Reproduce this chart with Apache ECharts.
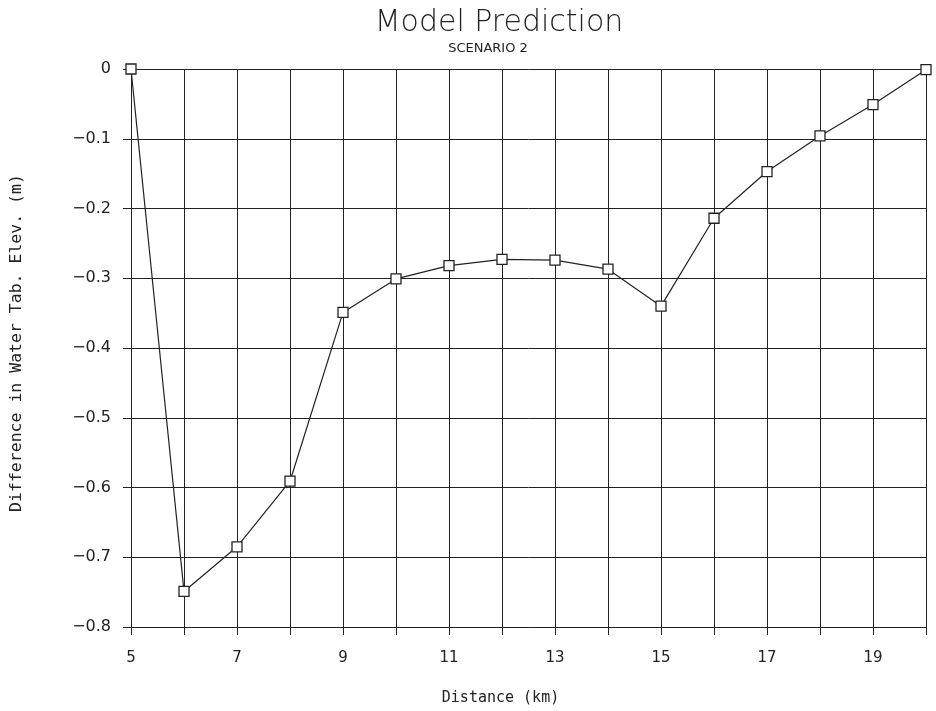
<!DOCTYPE html>
<html>
<head>
<meta charset="utf-8">
<script src="https://cdn.jsdelivr.net/npm/echarts@6/dist/echarts.min.js"></script>
<style>html,body{margin:0;padding:0;background:#fff}#c{width:936px;height:711px}</style>
</head>
<body>
<div id="c"></div>
<script>
const distance = [5, 6, 7, 8, 9, 10, 11, 12, 13, 14, 15, 16, 17, 18, 19, 20];
const difference = [0, -0.749, -0.685, -0.591, -0.349, -0.301, -0.282, -0.273, -0.274, -0.287, -0.340, -0.214, -0.147, -0.096, -0.051, -0.001];
const xLabelValues = [5, 7, 9, 11, 13, 15, 17, 19];
const yTicks = [0, -0.1, -0.2, -0.3, -0.4, -0.5, -0.6, -0.7, -0.8];

const chart = echarts.init(document.getElementById('c'), null, {renderer: 'canvas'});
const font = 'DejaVu Sans';
const mono = 'DejaVu Sans Mono';
const ink = '#222';
chart.setOption({
  backgroundColor: '#fff',
  animation: false,
  title: [{
    text: 'Model Prediction',
    left: 494, textAlign: 'center',
    top: 3,
    textStyle: {fontFamily: font, fontWeight: 200, fontSize: 30, color: ink}
  }, {
    text: 'SCENARIO 2',
    left: 483, textAlign: 'center',
    top: 37,
    textStyle: {fontFamily: font, fontWeight: 'normal', fontSize: 13, color: ink}
  }],
  grid: {left: 130, right: 10, top: 69, bottom: 84, containLabel: false},
  xAxis: {
    type: 'value',
    min: 5, max: 20, interval: 1,
    name: 'Distance (km)',
    nameLocation: 'middle',
    nameGap: 64,
    nameTextStyle: {fontFamily: mono, fontSize: 15, color: ink, padding: [0, 56, 0, 0]},
    axisLine: {show: true, onZero: false, lineStyle: {color: ink, width: 1}},
    axisTick: {show: true, length: 8, lineStyle: {color: ink}},
    axisLabel: {
      fontFamily: font, fontSize: 15, color: ink, margin: 24,
      formatter: v => xLabelValues.includes(v) ? String(v) : ''
    },
    splitLine: {show: true, lineStyle: {color: ink, width: 1}}
  },
  yAxis: {
    type: 'value',
    min: -0.8, max: 0, interval: 0.1,
    name: 'Difference in Water Tab. Elev. (m)',
    nameLocation: 'middle',
    nameGap: 106,
    nameTextStyle: {fontFamily: mono, fontSize: 16.5, color: ink, padding: [0, 0, 0, 10]},
    axisLine: {show: true, onZero: false, lineStyle: {color: ink, width: 1}},
    axisTick: {show: true, length: 8, lineStyle: {color: ink}},
    axisLabel: {
      fontFamily: font, fontSize: 16, color: ink, margin: 20,
      formatter: v => {
        const r = Math.round(v * 10) / 10;
        if (!yTicks.includes(r)) return '';
        return r === 0 ? '0' : r.toFixed(1).replace('-', '\u2212');
      }
    },
    splitLine: {show: true, lineStyle: {color: ink, width: 1}}
  },
  series: [{
    type: 'line',
    data: distance.map((d, i) => [d, difference[i]]),
    smooth: false,
    symbol: 'rect',
    symbolSize: 10,
    showAllSymbol: true,
    lineStyle: {color: ink, width: 1.2},
    itemStyle: {color: '#fff', borderColor: ink, borderWidth: 1.3},
    clip: false,
    z: 5
  }]
});
</script>
</body>
</html>
